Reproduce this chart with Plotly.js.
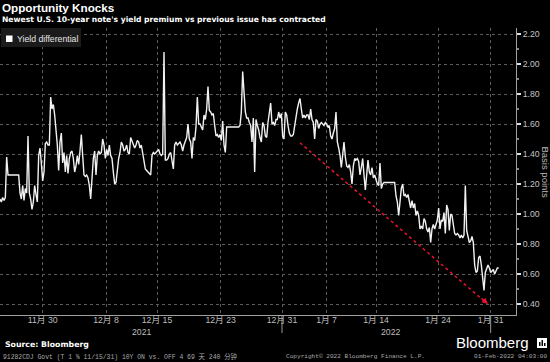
<!DOCTYPE html>
<html>
<head>
<meta charset="utf-8">
<script src="https://cdn.plot.ly/plotly-3.0.1.min.js"></script>
<style>
  html, body { margin: 0; padding: 0; background: #000; }
  #chart { width: 550px; height: 362px; }
</style>
</head>
<body>
<div id="chart"></div>
<script>
// Yield differential (basis points), one value per 240-minute bar
const yieldDiff = [
  // late Nov -> mid Dec
  1.10,1.08,1.11,1.09,1.11,1.38,1.26,1.26,1.26,1.26,1.26,1.26,1.26,1.26,1.26,1.14,1.10,1.19,1.09,1.17,
  1.14,1.52,1.14,1.10,1.03,1.08,1.19,1.13,1.08,1.39,1.44,1.34,1.22,1.28,1.47,1.48,1.46,1.46,1.78,1.70,
  1.73,1.66,1.58,1.46,1.29,1.48,1.54,1.34,1.41,1.28,1.39,1.27,1.37,1.41,1.42,1.37,1.28,1.32,1.39,1.33,
  1.42,1.53,1.39,1.26,1.25,1.26,1.24,1.19,1.10,1.23,1.37,1.42,1.26,1.39,1.42,1.40,1.41,1.50,1.46,1.37,
  1.43,1.39,1.46,1.39,1.37,1.28,1.20,1.21,1.30,1.37,1.41,1.48,1.46,1.42,1.43,1.46,1.41,1.40,
  // mid Dec -> late Dec
  1.51,1.49,1.46,1.44,1.46,1.49,1.48,1.44,1.46,1.41,1.37,1.30,1.29,1.28,1.27,1.26,1.39,1.41,1.40,1.41,
  1.42,1.43,1.40,1.39,1.40,2.08,1.36,1.36,1.37,1.40,1.41,1.34,1.30,1.46,1.48,1.46,1.47,1.48,1.46,1.42,
  1.46,1.49,1.51,1.60,1.50,1.48,1.37,1.51,1.49,1.58,1.78,1.60,1.60,1.58,1.56,1.66,1.63,1.70,1.85,1.69,
  1.68,1.66,1.67,1.59,1.52,1.53,1.51,1.53,1.49,1.62,1.46,1.41,1.58,1.58,1.58,1.58,1.58,1.58,1.58,1.58,
  1.58,1.58,1.59,1.68,1.95,1.81,1.68,1.64,1.64,1.61,
  // late Dec -> mid Jan
  1.59,1.48,1.64,1.28,1.63,1.59,1.56,1.51,1.48,1.61,1.59,1.52,1.51,1.61,1.69,1.74,1.60,1.61,1.59,1.63,
  1.63,1.68,1.64,1.67,1.52,1.50,1.68,1.66,1.59,1.54,1.52,1.52,1.53,1.59,1.66,1.70,1.74,1.77,1.70,1.64,
  1.66,1.64,1.66,1.66,1.63,1.70,1.63,1.61,1.50,1.63,1.62,1.57,1.60,1.61,1.60,1.59,1.61,1.60,1.58,1.59,
  1.52,1.50,1.54,1.57,1.68,1.48,1.44,1.39,1.31,1.41,1.48,1.38,1.32,1.31,1.33,1.28,1.20,1.32,1.37,1.36,
  1.37,1.35,1.26,1.31,1.37,1.26,1.16,1.26,1.36,1.28,1.26,1.31,1.24,1.26,
  // mid Jan -> 1 Feb
  1.22,1.20,1.19,1.34,1.17,1.20,1.21,1.21,1.21,1.21,1.21,1.21,1.21,1.21,1.21,1.12,1.08,0.99,1.07,1.17,
  1.20,1.12,1.13,1.11,1.13,1.07,1.04,1.09,1.04,1.07,0.99,1.02,0.99,0.90,0.92,0.90,0.97,0.95,0.90,0.88,
  0.91,0.81,0.90,0.93,0.90,0.93,0.96,1.04,0.90,0.96,0.95,1.01,0.87,1.06,1.03,0.89,1.00,0.99,0.94,0.87,
  0.86,0.87,0.86,0.84,0.86,0.84,0.86,1.19,0.89,0.84,0.81,0.82,0.85,0.81,0.66,0.61,0.62,0.71,0.72,0.66,
  0.59,0.49,0.61,0.63,0.66,0.64,0.61,0.62,0.63,0.60,0.62,0.64,0.64
];
const barIndex = yieldDiff.map((_, i) => i);

// x-axis ticks (bar index of each labelled date)
const tickBars  = [32, 79.5, 117.75, 165.5, 211.5, 244.9, 282, 328.5, 368];
const tickLabels = ["11月 30","12月 8","12月 15","12月 23","12月 31","1月 7","1月 14","1月 24","1月 31"];
const yearBars   = [106, 292.5];
const yearLabels = ["2021","2022"];
const separatorBars = [211.5, 368];

// y-axis ticks
const yTicks = [0.40,0.60,0.80,1.00,1.20,1.40,1.60,1.80,2.00,2.20];

// trend arrow (start, end)
const trendX = [225, 365];
const trendY = [1.475, 0.405];

const W = 550, H = 362;
const M = {l: 0, r: 34, t: 28, b: 47};
const plotW = W - M.l - M.r, plotH = H - M.t - M.b;
const px = x => (x - M.l) / plotW;          // page pixel -> paper x
const py = y => (H - M.b - y) / plotH;      // page pixel -> paper y

const uiFont = 'Liberation Sans, Arial, Noto Sans CJK SC, sans-serif';
const boldFont = 'DejaVu Sans, Verdana, sans-serif';
const monoFont = 'Liberation Mono, DejaVu Sans Mono, Noto Sans CJK SC, monospace';
const red = '#e8132f';

const trace = {
  x: barIndex, y: yieldDiff, type: 'scatter', mode: 'lines',
  line: {color: '#f2f2f2', width: 1.4},
  showlegend: false, hoverinfo: 'skip'
};

const shapes = [
  // legend box
  {type: 'rect', xref: 'paper', yref: 'paper', x0: px(1), x1: px(81), y0: py(47), y1: py(28),
   fillcolor: '#1b1b1b', line: {width: 0}},
  {type: 'rect', xref: 'paper', yref: 'paper', x0: px(6), x1: px(12.5), y0: py(42), y1: py(35.5),
   fillcolor: '#ffffff', line: {width: 0}},
  // trend arrow body
  {type: 'line', xref: 'x', yref: 'y', x0: trendX[0], y0: trendY[0], x1: trendX[1], y1: trendY[1],
   line: {color: red, width: 1.5, dash: 'dot'}},
  // Bloomberg icon
  {type: 'rect', xref: 'paper', yref: 'paper', x0: px(537), x1: px(547), y0: py(348), y1: py(338),
   fillcolor: '#ffffff', line: {width: 0}},
  {type: 'rect', xref: 'paper', yref: 'paper', x0: px(539), x1: px(540.5), y0: py(346), y1: py(342),
   fillcolor: '#000', line: {width: 0}},
  {type: 'rect', xref: 'paper', yref: 'paper', x0: px(541.5), x1: px(543), y0: py(346), y1: py(340),
   fillcolor: '#000', line: {width: 0}},
  {type: 'rect', xref: 'paper', yref: 'paper', x0: px(544), x1: px(545.5), y0: py(346), y1: py(343),
   fillcolor: '#000', line: {width: 0}}
];
separatorBars.forEach(b => shapes.push({
  type: 'line', xref: 'x', yref: 'paper', x0: b, x1: b, y0: 0, y1: py(333),
  line: {color: '#9a9a9a', width: 1}
}));

const annotations = [
  {xref: 'paper', yref: 'paper', x: px(0), y: py(8), xanchor: 'left', yanchor: 'middle', showarrow: false,
   text: '<b>Opportunity Knocks</b>', font: {family: 'Liberation Sans, Arial, sans-serif', size: 11.7, color: '#ffffff'}},
  {xref: 'paper', yref: 'paper', x: px(0), y: py(19.5), xanchor: 'left', yanchor: 'middle', showarrow: false,
   text: "<b>Newest U.S. 10-year note's yield premium vs previous issue has contracted</b>",
   font: {family: boldFont, size: 7.6, color: '#ffffff'}},
  {xref: 'paper', yref: 'paper', x: px(15), y: py(39), xanchor: 'left', yanchor: 'middle', showarrow: false,
   text: 'Yield differential', font: {family: uiFont, size: 8.7, color: '#e6e6e6'}},
  {xref: 'paper', yref: 'paper', x: px(545.5), y: py(172), xanchor: 'center', yanchor: 'middle', showarrow: false,
   textangle: 90, text: 'Basis points', font: {family: uiFont, size: 9.5, color: '#b8b8b8'}},
  {xref: 'x', yref: 'y', x: trendX[1] + 1, y: trendY[1] - 0.005, ax: -8, ay: -7, showarrow: true,
   arrowhead: 2, arrowsize: 1, arrowwidth: 1.2, arrowcolor: red, text: ''},
  {xref: 'paper', yref: 'paper', x: px(3), y: py(344), xanchor: 'left', yanchor: 'middle', showarrow: false,
   text: '<b>Source: Bloomberg</b>', font: {family: boldFont, size: 7.8, color: '#ffffff'}},
  {xref: 'paper', yref: 'paper', x: px(531), y: py(342.5), xanchor: 'right', yanchor: 'middle', showarrow: false,
   text: 'Bloomberg', font: {family: uiFont, size: 15, color: '#ffffff'}},
  {xref: 'paper', yref: 'paper', x: px(1), y: py(356.5), xanchor: 'left', yanchor: 'middle', showarrow: false,
   text: '91282CDJ Govt (T 1 ⅜ 11/15/31) 10Y ON vs. OFF 4 69 天 240 分钟',
   font: {family: monoFont, size: 6.4, color: '#a8a8a8'}},
  {xref: 'paper', yref: 'paper', x: px(284), y: py(356.5), xanchor: 'left', yanchor: 'middle', showarrow: false,
   text: 'Copyright© 2022 Bloomberg Finance L.P.', font: {family: monoFont, size: 6.1, color: '#a8a8a8'}},
  {xref: 'paper', yref: 'paper', x: px(549), y: py(356.5), xanchor: 'right', yanchor: 'middle', showarrow: false,
   text: '01-Feb-2022 04:03:00', font: {family: monoFont, size: 6.1, color: '#a8a8a8'}}
];
yearBars.forEach((b, i) => annotations.push({
  xref: 'x', yref: 'paper', x: b, y: py(332), xanchor: 'center', yanchor: 'middle', showarrow: false,
  text: yearLabels[i], font: {family: uiFont, size: 8.7, color: '#bdbdbd'}
}));

const layout = {
  width: W, height: H,
  margin: M,
  paper_bgcolor: '#000000', plot_bgcolor: '#000000',
  showlegend: false,
  xaxis: {
    range: [0, 387], fixedrange: true,
    tickmode: 'array', tickvals: tickBars, ticktext: tickLabels,
    ticks: '', ticklabelstandoff: -3,
    showgrid: true, gridcolor: '#5c5c5c', griddash: 'dot', gridwidth: 1,
    showline: true, linecolor: '#a0a0a0', linewidth: 1, zeroline: false,
    tickfont: {family: uiFont, size: 8.7, color: '#bdbdbd'}
  },
  yaxis: {
    side: 'right', range: [0.3267, 2.24], fixedrange: true,
    tickmode: 'array', tickvals: yTicks, tickformat: '.2f',
    ticks: 'outside', ticklen: 4, tickcolor: '#e0e0e0', tickwidth: 1.5,
    minor: {dtick: 0.1, tick0: 0, ticks: 'outside', ticklen: 2, tickcolor: '#888', showgrid: false},
    showgrid: true, gridcolor: '#5c5c5c', griddash: 'dot', gridwidth: 1,
    showline: true, linecolor: '#a0a0a0', linewidth: 1, zeroline: false,
    tickfont: {family: uiFont, size: 8.7, color: '#c4c4c4'}
  },
  shapes: shapes,
  annotations: annotations
};

Plotly.newPlot('chart', [trace], layout, {staticPlot: true, displayModeBar: false});
</script>
</body>
</html>
